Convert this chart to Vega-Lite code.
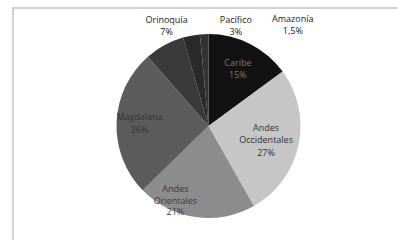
{
  "$schema": "https://vega.github.io/schema/vega-lite/v6.json",
  "width": 397,
  "height": 240,
  "autosize": {"type": "fit", "contains": "padding"},
  "padding": {"left": 13, "top": 6, "right": -7, "bottom": -4},
  "background": "white",
  "view": {"stroke": "#c4c4c4", "strokeWidth": 1.5},
  "data": {
    "values": [
      {"ord": 1, "region": "Caribe", "share": 15, "label": "Caribe\n15%"},
      {"ord": 2, "region": "Andes Occidentales", "share": 27, "label": "Andes\nOccidentales\n27%"},
      {"ord": 3, "region": "Andes Orientales", "share": 21, "label": "Andes\nOrientales\n21%"},
      {"ord": 4, "region": "Magdalena", "share": 26, "label": "Magdalena\n26%"},
      {"ord": 5, "region": "Orinoquía", "share": 7, "label": "Orinoquía\n7%"},
      {"ord": 6, "region": "Pacífico", "share": 3, "label": "Pacífico\n3%"},
      {"ord": 7, "region": "Amazonía", "share": 1.5, "label": "Amazonía\n1,5%"}
    ]
  },
  "encoding": {
    "theta": {"field": "share", "type": "quantitative", "stack": true},
    "order": {"field": "ord", "type": "quantitative"}
  },
  "layer": [
    {
      "mark": {"type": "arc", "outerRadius": 92},
      "encoding": {
        "color": {
          "field": "region",
          "type": "nominal",
          "legend": null,
          "scale": {
            "domain": ["Caribe", "Andes Occidentales", "Andes Orientales", "Magdalena", "Orinoquía", "Pacífico", "Amazonía"],
            "range": ["#121212", "#c6c6c6", "#8c8c8c", "#5c5c5c", "#3a3a3a", "#2a2a2a", "#333333"]
          }
        }
      }
    },
    {
      "mark": {"type": "text", "radius": 65, "dy": -5, "font": "Open Sans", "fontSize": 9, "lineBreak": "\n", "lineHeight": 12, "baseline": "middle", "color": "#7a7a7a"},
      "encoding": {
        "text": {"condition": {"test": "datum.region === 'Caribe'", "field": "label"}, "value": ""}
      }
    },
    {
      "mark": {"type": "text", "radius": 65, "dx": -6, "dy": -12, "font": "Open Sans", "fontSize": 9, "lineBreak": "\n", "lineHeight": 12.5, "baseline": "middle", "color": "#333333"},
      "encoding": {
        "text": {"condition": {"test": "datum.region === 'Andes Occidentales'", "field": "label"}, "value": ""}
      }
    },
    {
      "mark": {"type": "text", "radius": 65, "dx": -24, "dy": -1, "font": "Open Sans", "fontSize": 9, "lineBreak": "\n", "lineHeight": 11.5, "baseline": "middle", "color": "#3a3a3a"},
      "encoding": {
        "text": {"condition": {"test": "datum.region === 'Andes Orientales'", "field": "label"}, "value": ""}
      }
    },
    {
      "mark": {"type": "text", "radius": 69, "dy": -6, "font": "Open Sans", "fontSize": 9, "lineBreak": "\n", "lineHeight": 13, "baseline": "middle", "color": "#333333"},
      "encoding": {
        "text": {"condition": {"test": "datum.region === 'Magdalena'", "field": "label"}, "value": ""}
      }
    },
    {
      "mark": {"type": "text", "radius": 100, "dx": 6, "dy": -18, "font": "Open Sans", "fontSize": 9, "lineBreak": "\n", "lineHeight": 12, "baseline": "middle", "color": "#222222"},
      "encoding": {
        "text": {"condition": {"test": "datum.region === 'Orinoquía'", "field": "label"}, "value": ""}
      }
    },
    {
      "mark": {"type": "text", "radius": 100, "dx": 46, "dy": -8, "font": "Open Sans", "fontSize": 9, "lineBreak": "\n", "lineHeight": 12, "baseline": "middle", "color": "#222222"},
      "encoding": {
        "text": {"condition": {"test": "datum.region === 'Pacífico'", "field": "label"}, "value": ""}
      }
    },
    {
      "mark": {"type": "text", "radius": 100, "dx": 89, "dy": -7, "font": "Open Sans", "fontSize": 9, "lineBreak": "\n", "lineHeight": 12, "baseline": "middle", "color": "#222222"},
      "encoding": {
        "text": {"condition": {"test": "datum.region === 'Amazonía'", "field": "label"}, "value": ""}
      }
    }
  ]
}
